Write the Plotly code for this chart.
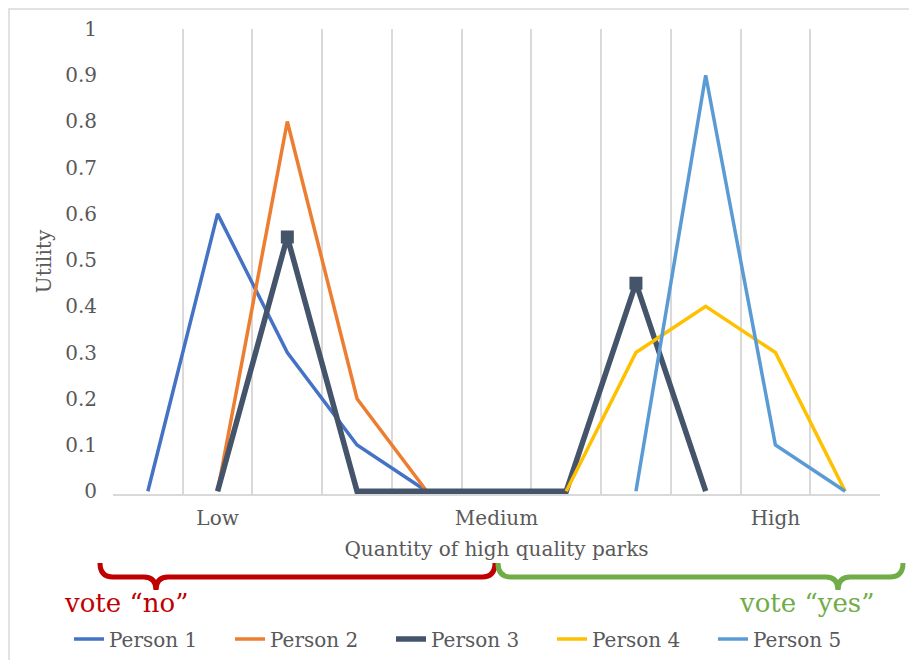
import plotly.graph_objects as go

# ---- data ----
positions = list(range(11))
tick_positions = [1, 5, 9]
tick_labels = ["Low", "Medium", "High"]

person1 = [0, 0.6, 0.3, 0.1, 0, None, None, None, None, None, None]
person2 = [None, 0, 0.8, 0.2, 0, None, None, None, None, None, None]
person3 = [None, 0, 0.55, 0, 0, 0, 0, 0.45, 0, None, None]
person4 = [None, None, None, None, None, None, 0, 0.3, 0.4, 0.3, 0]
person5 = [None, None, None, None, None, None, None, 0, 0.9, 0.1, 0]
person3_peaks_x = [2, 7]
person3_peaks_y = [0.55, 0.45]

series = [
    ("Person 1", person1, "#4472C4", 3.5),
    ("Person 2", person2, "#ED7D31", 3.5),
    ("Person 3", person3, "#44546A", 5.5),
    ("Person 4", person4, "#FFC000", 3.5),
    ("Person 5", person5, "#5B9BD5", 3.5),
]

OFF = 8  # page body margin
W, H = 917 - OFF, 660 - OFF
# plot area in reference-pixel coordinates
RL, RR, RT, RB = 113, 880, 29, 494
L, R, T, B = RL - OFF, RR - OFF, RT - OFF, RB - OFF

def px(x):  # reference pixel x -> paper
    return (x - RL) / (RR - RL)

def py(y):  # reference pixel y -> paper
    return (RB - y) / (RB - RT)

fig = go.Figure()
for name, vals, color, width in series:
    fig.add_trace(go.Scatter(
        x=positions, y=vals, mode="lines", name=name,
        line=dict(color=color, width=width), connectgaps=False,
    ))
    if name == "Person 3":
        fig.add_trace(go.Scatter(
            x=person3_peaks_x, y=person3_peaks_y, mode="markers",
            marker=dict(symbol="square", size=13, color=color),
            showlegend=False, hoverinfo="skip",
        ))

font_family = "DejaVu Serif"
gray = "#595959"

fig.update_layout(
    width=W, height=H,
    margin=dict(l=L, r=W - R, t=T, b=H - B, autoexpand=False),
    paper_bgcolor="white", plot_bgcolor="white",
    font=dict(family=font_family, size=20, color=gray),
    showlegend=True,
    legend=dict(
        orientation="h", xref="paper", yref="paper",
        x=px(69), xanchor="left", y=py(639), yanchor="middle",
        font=dict(size=20, color=gray),
        entrywidth=116, entrywidthmode="pixels",
        traceorder="normal", bgcolor="rgba(0,0,0,0)",
    ),
    xaxis=dict(
        range=[-0.5, 10.5],
        tickmode="array", tickvals=tick_positions, ticktext=tick_labels,
        showgrid=False, zeroline=False,
        showline=True, linecolor="#d9d9d9", linewidth=1.5,
        ticks="", ticklabelstandoff=5,
        tickfont=dict(size=20, color=gray),
        minor=dict(tickmode="linear", tick0=-0.5, dtick=1, showgrid=True,
                   gridcolor="#d9d9d9", gridwidth=1.5, ticks=""),
        title=dict(text="Quantity of high quality parks",
                   font=dict(size=20, color=gray), standoff=13),
    ),
    yaxis=dict(
        range=[-0.006, 1.0],
        tickmode="linear", tick0=0, dtick=0.1,
        showgrid=False, zeroline=False, showline=False,
        ticks="", ticklabelstandoff=15,
        tickfont=dict(size=20, color=gray),
        title=dict(text="Utility", font=dict(size=20, color=gray), standoff=8),
    ),
)

# chart border (Excel chart area frame)
fig.add_shape(type="rect", xref="paper", yref="paper",
              x0=px(OFF + 1), x1=px(910), y0=py(670), y1=py(OFF + 1),
              line=dict(color="#d9d9d9", width=1.5), layer="below")

def path_from(points):
    parts = []
    for cmd, coords in points:
        s = " ".join(f"{px(x):.5f},{py(y):.5f}" for x, y in coords)
        parts.append(f"{cmd}{s}")
    return " ".join(parts)

red_brace = [
    ("M", [(100, 563)]), ("Q", [(100, 577), (113, 577)]),
    ("L", [(144, 577)]), ("Q", [(156, 577), (156, 590)]),
    ("Q", [(156, 577), (168, 577)]), ("L", [(482, 577)]),
    ("Q", [(495, 577), (495, 563)]),
]
green_brace = [
    ("M", [(498, 563)]), ("Q", [(498, 577), (511, 577)]),
    ("L", [(826, 577)]), ("Q", [(838, 577), (838, 590)]),
    ("Q", [(838, 577), (850, 577)]), ("L", [(890, 577)]),
    ("Q", [(903, 577), (903, 563)]),
]
fig.add_shape(type="path", xref="paper", yref="paper", path=path_from(red_brace),
              line=dict(color="#C00000", width=5))
fig.add_shape(type="path", xref="paper", yref="paper", path=path_from(green_brace),
              line=dict(color="#70AD47", width=5))

fig.add_annotation(xref="paper", yref="paper", x=px(126), y=py(603),
                   text="vote “no”", showarrow=False,
                   font=dict(size=26, color="#C00000", family=font_family),
                   xanchor="center", yanchor="middle")
fig.add_annotation(xref="paper", yref="paper", x=px(806), y=py(603),
                   text="vote “yes”", showarrow=False,
                   font=dict(size=26, color="#70AD47", family=font_family),
                   xanchor="center", yanchor="middle")

fig.write_html("out.html")
